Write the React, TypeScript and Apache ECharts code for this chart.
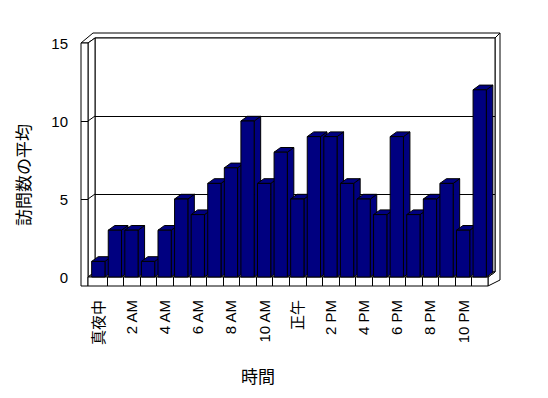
import React, { useEffect, useRef } from "react";
import * as echarts from "echarts";

const categories = [
  "真夜中", "1 AM", "2 AM", "3 AM", "4 AM", "5 AM", "6 AM", "7 AM", "8 AM", "9 AM", "10 AM", "11 AM",
  "正午", "1 PM", "2 PM", "3 PM", "4 PM", "5 PM", "6 PM", "7 PM", "8 PM", "9 PM", "10 PM", "11 PM",
];
const visits = [1, 3, 3, 1, 3, 5, 4, 6, 7, 10, 6, 8, 5, 9, 9, 6, 5, 4, 9, 4, 5, 6, 3, 12];
const yMin = 0;
const yMax = 15;
const yStep = 5;
const gridValues = [5, 10];
const xTitle = "時間";
const yTitle = "訪問数の平均";

const FONT = "'Liberation Sans', Arial, 'Noto Sans CJK JP', sans-serif";

export default function App() {
  const ref = useRef<HTMLDivElement>(null);
  useEffect(() => {
    document.body.style.margin = "0";
    const chart = echarts.init(ref.current!, null, { renderer: "svg" });
    const lineStyle = { stroke: "#000", lineWidth: 1, fill: "none" };
    const faceStyle = { fill: "#fff", stroke: "#000", lineWidth: 1 };
    const r = (n: number) => Math.round(n) + 0.5;

    const renderFrame = (params: any, api: any) => {
      const cs = params.coordSys;
      const x0 = cs.x;
      const x1 = cs.x + cs.width;
      const yT = cs.y;
      const yB = cs.y + cs.height;
      const xl = x0 - 2;
      const S = 7;
      const DX = 7, DY = -5, TX = 5, TY = -5;
      const FH = 9;
      const children: any[] = [];
      children.push({
        type: "polygon",
        shape: { points: [[xl - S, yT], [xl, yT], [xl + DX, yT + DY], [x1 + DX, yT + DY], [x1 + DX + TX, yT + DY + TY], [xl - S + DX + TX, yT + DY + TY]] },
        style: faceStyle,
      });
      children.push({
        type: "polygon",
        shape: { points: [[x1 + DX, yT + DY], [x1 + DX + TX, yT + DY + TY], [x1 + DX + TX, yB + FH - 6], [x1, yB + FH], [x1, yB], [x1 + DX, yB + DY]] },
        style: faceStyle,
      });
      children.push({
        type: "rect",
        shape: { x: xl + DX, y: yT + DY, width: x1 - xl, height: yB - yT },
        style: faceStyle,
      });
      children.push({
        type: "polygon",
        shape: { points: [[xl, yT], [xl + DX, yT + DY], [xl + DX, yB + DY], [xl, yB]] },
        style: faceStyle,
      });
      children.push({
        type: "polygon",
        shape: { points: [[xl, yB], [xl + DX, yB + DY], [x1 + DX, yB + DY], [x1, yB]] },
        style: faceStyle,
      });
      children.push({
        type: "rect",
        shape: { x: xl - S, y: yT, width: S, height: yB + FH - yT },
        style: faceStyle,
      });
      children.push({
        type: "rect",
        shape: { x: xl, y: yB, width: x1 - xl, height: FH },
        style: faceStyle,
      });
      gridValues.forEach((v) => {
        const y = api.coord([0, v])[1];
        children.push({ type: "line", shape: { x1: xl + DX, y1: r(y + DY), x2: x1 + DX, y2: r(y + DY) }, style: lineStyle });
        children.push({ type: "line", shape: { x1: xl, y1: y, x2: xl + DX, y2: y + DY }, style: lineStyle });
        children.push({ type: "line", shape: { x1: xl - S, y1: r(y), x2: xl, y2: r(y) }, style: lineStyle });
      });
      const band = api.size([1, 0])[0];
      for (let i = 1; i < categories.length; i++) {
        const x = r(x0 + i * band);
        children.push({ type: "line", shape: { x1: x, y1: yB, x2: x, y2: yB + FH }, style: lineStyle });
      }
      return { type: "group", children };
    };

    const renderBar = (params: any, api: any) => {
      const i = api.value(0);
      const v = api.value(1);
      const top = api.coord([i, v]);
      const bot = api.coord([i, 0]);
      const band = api.size([1, 0])[0];
      const w = band * 0.8;
      const xL = top[0] - w / 2;
      const xR = xL + w;
      const yT = top[1];
      const yB = bot[1];
      const dx = 6.5, dy = -4.7;
      const st = { fill: "#000080", stroke: "#000", lineWidth: 1 };
      return {
        type: "group",
        children: [
          { type: "polygon", shape: { points: [[xR, yT], [xR + dx, yT + dy], [xR + dx, yB + dy], [xR, yB]] }, style: st },
          { type: "polygon", shape: { points: [[xL, yT], [xR, yT], [xR + dx, yT + dy], [xL + dx, yT + dy]] }, style: st },
          { type: "rect", shape: { x: xL, y: yT, width: w, height: yB - yT }, style: st },
        ],
      };
    };

    chart.setOption({
      animation: false,
      backgroundColor: "#fff",
      grid: { left: 90, right: 60, top: 43, bottom: 121, containLabel: false },
      xAxis: {
        type: "category",
        data: categories,
        boundaryGap: true,
        axisLine: { show: false },
        axisTick: { show: false },
        axisLabel: {
          interval: 1,
          rotate: 90,
          margin: 23,
          color: "#000000",
          fontSize: 15,
          fontFamily: FONT,
          formatter: (val: string) => `{t|${val}}`,
          rich: { t: { color: "#000000", fontSize: 15, fontFamily: FONT } },
        },
      },
      yAxis: {
        type: "value",
        min: yMin,
        max: yMax,
        interval: yStep,
        axisLine: { show: false },
        axisTick: { show: false },
        splitLine: { show: false },
        axisLabel: { margin: 22, color: "#000", fontSize: 15, fontFamily: FONT },
      },
      graphic: [
        {
          type: "text",
          x: 24,
          y: 175,
          rotation: Math.PI / 2,
          style: { text: yTitle, fill: "#000", font: `17px ${FONT}`, align: "center", verticalAlign: "middle" },
        },
        {
          type: "text",
          x: 258,
          y: 377,
          style: { text: xTitle, fill: "#000", font: `17px ${FONT}`, align: "center", verticalAlign: "middle" },
        },
      ],
      series: [
        {
          type: "custom",
          z: 1,
          silent: true,
          data: [[0, 0]],
          encode: { x: 0, y: 1 },
          renderItem: renderFrame,
        },
        {
          type: "custom",
          z: 2,
          data: visits.map((v, i) => [i, v]),
          encode: { x: 0, y: 1 },
          renderItem: renderBar,
        },
      ],
    });
    return () => chart.dispose();
  }, []);
  return <div ref={ref} style={{ width: 548, height: 398 }} />;
}
